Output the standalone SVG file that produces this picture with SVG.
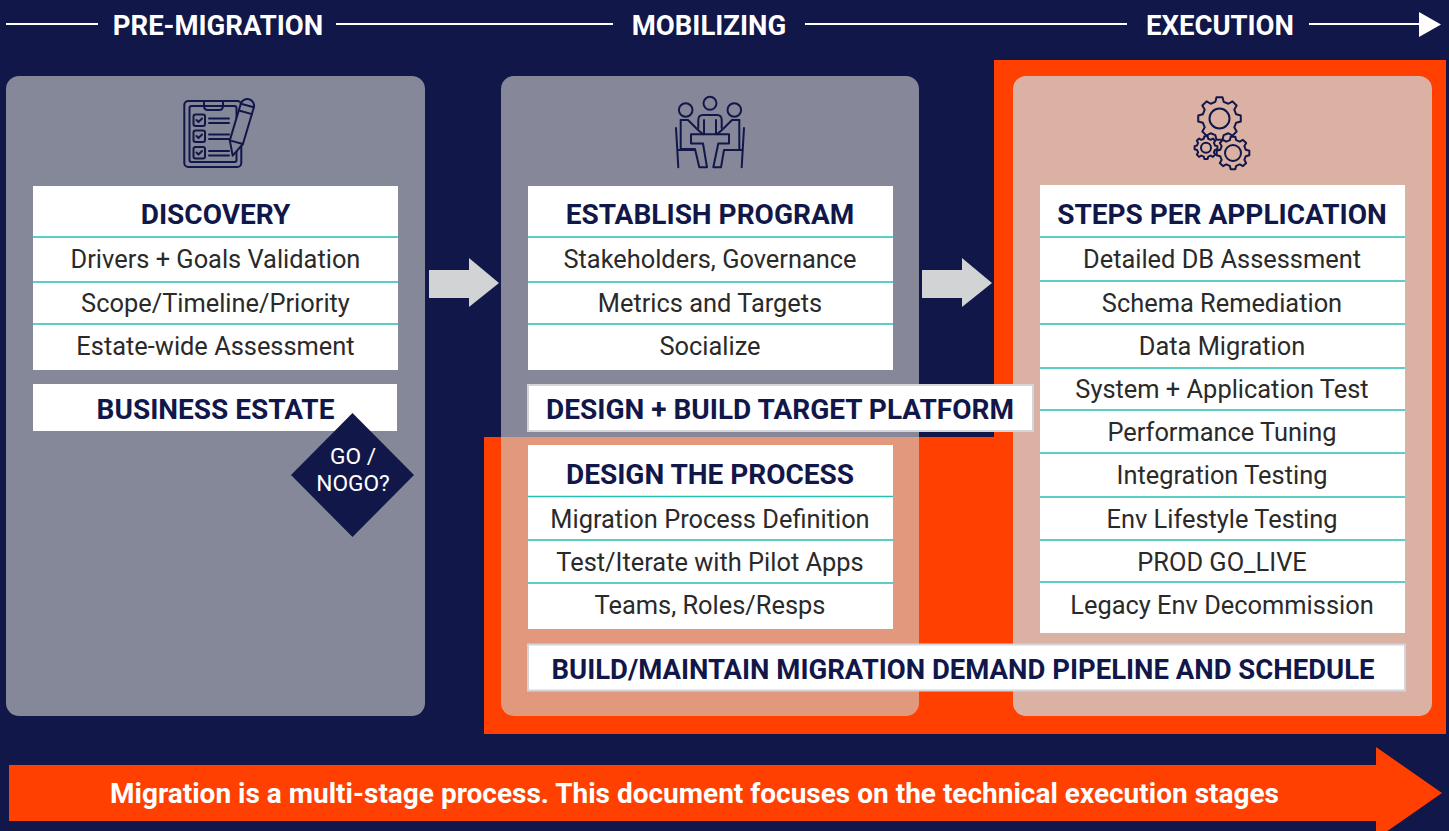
<svg xmlns="http://www.w3.org/2000/svg" width="1449" height="831" viewBox="0 0 1449 831">
<style>
text{font-family:Roboto,"Liberation Sans",sans-serif;text-anchor:middle}
.ph{font-size:27.5px;font-weight:700;fill:#fff}
.t{font-size:28px;font-weight:700;fill:#12174A}
.i{font-size:25.4px;fill:#2a2a2a}
.box{fill:#fff}
.bb{fill:#fff;stroke:#d3d5da;stroke-width:2}
.rule{stroke:#25BFB5;stroke-width:1.5;fill:none}
.ic{fill:none;stroke:#12174A;stroke-width:2;stroke-linejoin:round;stroke-linecap:round}
.wl{stroke:#fff;stroke-width:2.2}
.ga{fill:#D1D3D4}
</style>
<defs>
<path id="gear" vector-effect="non-scaling-stroke" d="M77.6-19.4 99-13.9 99 13.9 77.6 19.4 68.6 41.2 79.8 60.2 60.2 79.8 41.2 68.6 19.4 77.6 13.9 99-13.9 99-19.4 77.6-41.2 68.6-60.2 79.8-79.8 60.2-68.6 41.2-77.6 19.4-99 13.9-99-13.9-77.6-19.4-68.6-41.2-79.8-60.2-60.2-79.8-41.2-68.6-19.4-77.6-13.9-99 13.9-99 19.4-77.6 41.2-68.6 60.2-79.8 79.8-60.2 68.6-41.2Z"/>
</defs>
<rect width="1449" height="831" fill="#12174A"/>
<path d="M994 60H1446V734H484V437H994Z" fill="#FF4000"/>

<g id="stage-pre">
<rect x="6" y="76" width="419" height="640" rx="13" fill="#858899"/>
<g class="ic">
<rect x="184.3" y="101" width="57" height="66" rx="4"/>
<rect x="189.5" y="106" width="47" height="56" rx="2"/>
<path d="M204 101V106Q204 110 208 110H219Q223 110 223 106V101"/>
<rect x="193.5" y="114.5" width="11.5" height="11.5" rx="2"/>
<rect x="193.5" y="130.5" width="11.5" height="11.5" rx="2"/>
<rect x="193.5" y="147" width="11.5" height="11.5" rx="2"/>
<path d="M196.500 120l2 2 3.500-3.500M196.500 136l2 2 3.500-3.500M196.500 152.500l2 2 3.500-3.500"/>
<path d="M209 118.500H229M209 123H229M209 134.500H229M209 139H229M209 151H229M209 155.500H229"/>
<path d="M232.700 155.700 229.800 140.400 240.800 103.700A6.800 6.800 0 0 1 253.900 107.300L242.900 144Z" fill="#858899"/>
<path d="M238.900 110.500 252 114.100M240.800 103.700 253.900 107.300M229.800 140.400 242.900 144"/>
</g>
<rect class="box" x="33" y="186" width="365" height="184"/>
<text class="t" x="215.500" y="224">DISCOVERY</text>
<path class="rule" d="M33 237H398M33 282H398M33 324H398"/>
<text class="i" x="215.500" y="267.500">Drivers + Goals Validation</text>
<text class="i" x="215.500" y="311.500">Scope/Timeline/Priority</text>
<text class="i" x="215.500" y="354.500">Estate-wide Assessment</text>
</g>
<g id="business-estate">
<rect class="box" x="33" y="384" width="364" height="47"/>
<text class="t" x="215.500" y="419">BUSINESS ESTATE</text>
</g>
<g id="go-nogo">
<path d="M352.500 413 414 475 352.500 537 291 475Z" fill="#12174A"/>
<text x="353" y="464" font-size="22.700" fill="#fff">GO /</text>
<text x="353" y="491" font-size="22.700" fill="#fff">NOGO?</text>
</g>

<g id="stage-mobilizing">
<rect x="501" y="76" width="418" height="640" rx="13" fill="#CFD0CC" fill-opacity=".61"/>
<g class="ic">
<circle cx="710" cy="103.300" r="6.500"/><circle cx="685.700" cy="110" r="6.800"/><circle cx="734.300" cy="110" r="6.800"/>
<path d="M698.300 128V120Q698.300 115 703 115H717Q721.700 115 721.700 120V128"/>
<path d="M704 120V134M716 120V134"/>
<path d="M680.700 120V149H695L699.300 167.300H707L703 143.500H691V134.300H729V143.500H718.300L713.300 167.300H721L724 150H739.300V120"/>
<path d="M680.700 120H688L697 129 703 134.300M739.300 120H732L723 129 717 134.300"/>
<path d="M676 128 678.300 167.300M744 128 741.700 167.300M678 150H695M725 150H742"/>
</g>
<rect class="box" x="528" y="186" width="365" height="184"/>
<text class="t" x="710" y="224">ESTABLISH PROGRAM</text>
<path class="rule" d="M528 237H893M528 282H893M528 324H893"/>
<text class="i" x="710" y="267.500">Stakeholders, Governance</text>
<text class="i" x="710" y="311.500">Metrics and Targets</text>
<text class="i" x="710" y="354.500">Socialize</text>
</g>
<g id="design-process">
<rect class="box" x="528" y="445" width="365" height="184"/>
<text class="t" x="710" y="484">DESIGN THE PROCESS</text>
<path class="rule" d="M528 496.500H893M528 540H893M528 583H893"/>
<text class="i" x="710" y="527.500">Migration Process Definition</text>
<text class="i" x="710" y="570.500">Test/Iterate with Pilot Apps</text>
<text class="i" x="710" y="613.500">Teams, Roles/Resps</text>
</g>

<g id="stage-execution">
<rect x="1013" y="76" width="419" height="640" rx="13" fill="#DBB1A4"/>
<g class="ic">
<use href="#gear" transform="translate(1219.500 118.500) scale(.215)"/>
<circle cx="1219.500" cy="118.500" r="10"/>
<use href="#gear" transform="translate(1206 147.700) scale(.115)"/>
<circle cx="1206" cy="147.700" r="5"/>
<use href="#gear" transform="translate(1233 153) scale(.165)"/>
<circle cx="1233" cy="153" r="8"/>
</g>
<rect class="box" x="1040" y="185" width="365" height="448"/>
<text class="t" x="1222" y="224">STEPS PER APPLICATION</text>
<path class="rule" d="M1040 237H1405M1040 281H1405M1040 324H1405M1040 368H1405M1040 410H1405M1040 453H1405M1040 497H1405M1040 540H1405M1040 582H1405"/>
<text class="i" x="1222" y="267.500">Detailed DB Assessment</text>
<text class="i" x="1222" y="311.500">Schema Remediation</text>
<text class="i" x="1222" y="354.500">Data Migration</text>
<text class="i" x="1222" y="397.500">System + Application Test</text>
<text class="i" x="1222" y="440.500">Performance Tuning</text>
<text class="i" x="1222" y="483.500">Integration Testing</text>
<text class="i" x="1222" y="527.500">Env Lifestyle Testing</text>
<text class="i" x="1222" y="570.500">PROD GO_LIVE</text>
<text class="i" x="1222" y="613.500">Legacy Env Decommission</text>
</g>

<g id="design-build">
<rect class="bb" x="528" y="385" width="505" height="46"/>
<text class="t" x="780" y="419">DESIGN + BUILD TARGET PLATFORM</text>
</g>
<g id="pipeline">
<rect class="bb" x="528" y="644.500" width="877" height="46"/>
<text class="t" x="963" y="679" style="font-size:27.5px">BUILD/MAINTAIN MIGRATION DEMAND PIPELINE AND SCHEDULE</text>
</g>

<g id="connectors">
<path class="ga" d="M429 270H469V258L499 283 469 307V298H429Z"/>
<path class="ga" d="M922 270H962V258L992 283 962 307V298H922Z"/>
<path class="wl" d="M6 24H98M336 24H613M805 24H1127M1309 24H1420"/>
<path d="M1419 12 1441 24.500 1419 37Z" fill="#fff"/>
</g>
<g id="stage-labels">
<text class="ph" x="218" y="34.500">PRE-MIGRATION</text>
<text class="ph" x="709" y="34.500">MOBILIZING</text>
<text class="ph" x="1220" y="34.500">EXECUTION</text>
</g>
<g id="banner">
<path d="M9 765H1376V747L1442 793 1376 839V821H9Z" fill="#FF4000"/>
<text x="694.500" y="803" font-size="28" font-weight="700" fill="#fff">Migration is a multi-stage process. This document focuses on the technical execution stages</text>
</g>
</svg>
